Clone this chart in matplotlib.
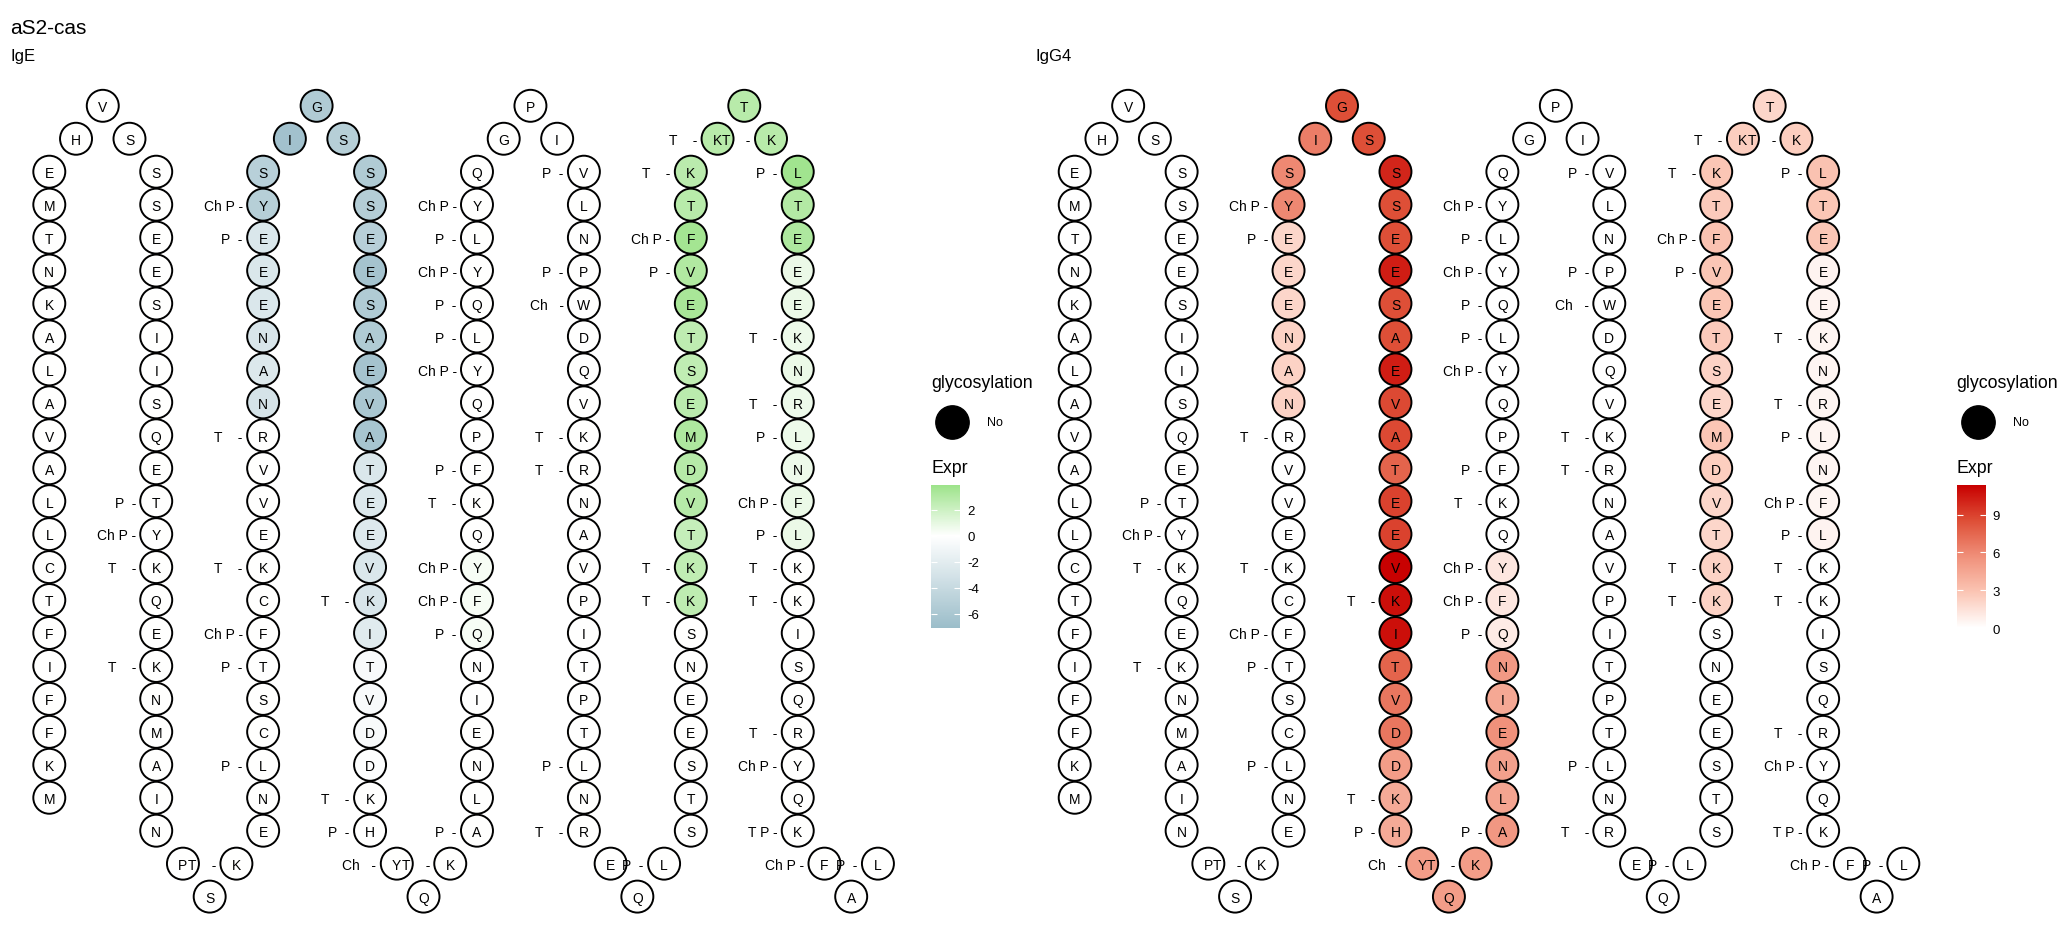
import matplotlib.pyplot as plt
from matplotlib.colors import LinearSegmentedColormap, Normalize
from matplotlib.cm import ScalarMappable
from matplotlib.lines import Line2D

plt.rcParams['font.family'] = ['Liberation Sans', 'DejaVu Sans']
plt.rcParams['axes.unicode_minus'] = False

# aS2-casein, the residues drawn in the snake plot (N-terminal 191 aa)
sequence = ("MKFFIFTCLLAVALAKNTMEHVSSSEESIISQETYKQEKNMAINPSKENLCSTFCKEVVRNANEEEYS"
            "IGSSSEESAEVATEEVKITVDDKHYQKALNEINQFYQKFPQYLQYLYQGPIVLNPWDQVKRNAVPIT"
            "PTLNREQLSTSEENSKKTVDMESTEVFTKKTKLTEEEKNRLNFLKKISQRYQKFAL")
column_lengths = [20, 21, 21, 21, 21, 21, 21, 21]

# modifications (1-based residue number -> label)
mod_pos = [34, 35, 36, 39, 47, 67, 66, 60, 56, 54, 53, 50, 85, 91, 92, 93, 95,
           115, 114, 113, 112, 111, 110, 107, 106, 104, 103, 102, 96,
           120, 123, 124, 128, 129, 138, 140, 143,
           164, 162, 161, 152, 151, 165, 167,
           168, 173, 175, 176, 178, 179, 180, 181, 185, 186, 188, 189, 191]
mod_type = ["P", "Ch P", "T", "T", "T", "Ch P", "P", "T", "T", "Ch P", "P", "P", "T", "T", "P", "Ch", "T",
            "Ch P", "P", "Ch P", "P", "P", "Ch P", "P", "T", "Ch P", "Ch P", "P", "P",
            "P", "P", "Ch", "T", "T", "P", "T", "P",
            "T", "Ch P", "P", "T", "T", "T", "T",
            "P", "T", "T", "P", "Ch P", "P", "T", "T", "T", "Ch P", "T P", "Ch P", "P"]
mod_text = {"P": "P  -", "Ch P": "Ch P -", "T": "T    -", "Ch": "Ch   -", "T P": "T P -"}

# IgE expression (residues not listed are 0)
ige_pos = [61, 62, 63, 64, 65, 66, 67, 68, 69, 70, 71,
           72, 73, 74, 75, 76, 77, 78, 79, 80, 81, 82, 83, 84, 85, 86, 87, 88, 89, 90,
           102, 103, 104,
           151, 152, 153, 154, 155, 156, 157, 158, 159, 160, 161, 162, 163, 164, 165, 166, 167,
           168, 169, 170, 171, 172, 173, 174, 175, 176, 177, 178, 179]
ige_val = [-3.0, -2.5, -2.8, -2.6, -2.6, -2.6, -5.2, -5.0, -6.6, -5.6, -5.2,
           -5.6, -5.3, -5.1, -6.4, -5.6, -5.6, -6.4, -6.0, -6.2, -2.6, -2.5, -2.4, -2.6, -2.8, -2.2,
           -0.5, -0.5, -0.5, -0.1,
           0.3, 0.3, 0.3,
           2.6, 2.5, 2.3, 2.9, 2.9, 3.2, 2.7, 2.5, 2.6, 3.4, 3.1, 3.6, 2.8, 2.7, 2.8, 2.8, 2.8,
           3.7, 3.0, 3.2, 0.8, 0.8, 0.7, 0.8, 0.7, 0.7, 0.7, 0.8, 0.8]

# IgG4 expression (residues not listed are 0)
igg4_pos = [61, 62, 63, 64, 65, 66, 67, 68, 69, 70, 71,
            72, 73, 74, 75, 76, 77, 78, 79, 80, 81, 82, 83, 84, 85, 86, 87, 88, 89, 90, 91, 92,
            93, 94, 95, 96, 97, 98, 99, 100, 101, 102, 103, 104,
            151, 152, 153, 154, 155, 156, 157, 158, 159, 160, 161, 162, 163, 164, 165, 166, 167,
            168, 169, 170, 171, 172, 173, 174, 175, 176, 177, 178, 179]
igg4_val = [2.2, 2.2, 2.2, 2.0, 2.0, 2.0, 6.0, 6.0, 6.5, 8.5, 8.5,
            10.0, 8.5, 8.5, 10.3, 8.5, 8.5, 10.3, 8.7, 8.7, 7.6, 9.0, 9.0, 11.3, 10.8, 10.8,
            7.6, 6.8, 6.8, 5.0, 4.3, 4.3,
            5.0, 5.0, 5.0, 5.3, 4.6, 4.8, 5.6, 4.4, 5.2, 1.0, 1.2, 1.2,
            2.2, 2.2, 2.0, 2.0, 2.4, 2.8, 2.0, 2.2, 2.6, 2.8, 2.8, 3.0, 2.6, 2.8, 2.4, 2.0, 2.4,
            3.0, 2.8, 2.8, 0.6, 0.6, 0.5, 0.5, 0.5, 0.5, 0.5, 0.5, 0.6]

W, H = 2068, 945
DX, DY = 26.73, 32.95
ROW0 = 172.7


def snake_layout(lengths):
    xs, ys = [], []
    x = 0
    for k, n in enumerate(lengths):
        rows = range(n - 1, -1, -1) if k % 2 == 0 else range(n)
        for r in rows:
            xs.append(x)
            ys.append(r)
        if k % 2 == 0:
            loop = [-1, -2, -1]
        else:
            loop = [n, n + 1, n]
        for i, r in enumerate(loop):
            xs.append(x + i + 1)
            ys.append(r)
        x += 4
    return xs, ys


xs, ys = snake_layout(column_lengths)

fig = plt.figure(figsize=(W / 100, H / 100), dpi=100)

ige_cmap = LinearSegmentedColormap.from_list(
    "ige", [(0, "#9bbdc9"), (7.1 / 11.0, "#ffffff"), (1, "#9de38a")])
ige_norm = Normalize(-7.1, 3.9)
igg4_cmap = LinearSegmentedColormap.from_list(
    "igg4", [(0, "#ffffff"), (0.25, "#fbc5b4"), (0.5, "#f0907a"), (0.75, "#de4f37"), (1, "#c80000")])
igg4_norm = Normalize(0, 11.35)


def draw_panel(x0, name, pos, val, cmap, norm, ticks):
    xl = (-1.8, 32.6)
    yl = (23.2, -3.2)
    left = x0 + xl[0] * DX
    right = x0 + xl[1] * DX
    top = ROW0 + yl[1] * DY
    bottom = ROW0 + yl[0] * DY
    ax = fig.add_axes([left / W, 1 - bottom / H, (right - left) / W, (bottom - top) / H])
    ax.set_xlim(xl)
    ax.set_ylim(yl)
    ax.set_axis_off()

    expr = [0.0] * len(sequence)
    for p, v in zip(pos, val):
        expr[p - 1] = v
    ax.scatter(xs, ys, s=530, c=expr, cmap=cmap, norm=norm,
               edgecolors="black", linewidths=1.4, zorder=2)
    for x, y, aa in zip(xs, ys, sequence):
        ax.text(x, y + 0.04, aa, ha="center", va="center", fontsize=10, zorder=3)
    for p, t in zip(mod_pos, mod_type):
        ax.text(xs[p - 1] - 0.76, ys[p - 1] + 0.04, mod_text[t], ha="right", va="center",
                fontsize=10, zorder=4)

    fig.text((x0 - 39) / W, 1 - 56.7 / H, name, ha="left", va="center", fontsize=12)

    # legend
    lx = x0 + 882
    fig.text(lx / W, 1 - 384 / H, "glycosylation", ha="left", va="center", fontsize=12.8)
    fig.add_artist(Line2D([(lx + 21) / W], [1 - 423 / H], marker="o", markersize=24,
                          color="black", transform=fig.transFigure))
    fig.text((lx + 56) / W, 1 - 423 / H, "No", ha="left", va="center", fontsize=9)
    fig.text(lx / W, 1 - 469 / H, "Expr", ha="left", va="center", fontsize=12.8)
    cax = fig.add_axes([lx / W, 1 - 629 / H, 29 / W, 143 / H])
    cb = fig.colorbar(ScalarMappable(norm=norm, cmap=cmap), cax=cax, ticks=ticks)
    cb.outline.set_visible(False)
    cax.tick_params(direction="in", length=4.2, width=0.8, color="white",
                    left=True, right=True, labelsize=9.5, pad=5)


draw_panel(49.3, "IgE", ige_pos, ige_val, ige_cmap, ige_norm, [-6, -4, -2, 0, 2])
draw_panel(1074.7, "IgG4", igg4_pos, igg4_val, igg4_cmap, igg4_norm, [0, 3, 6, 9])

fig.text(10 / W, 1 - 28.5 / H, "aS2-cas", ha="left", va="center", fontsize=15)

fig.savefig("out.png", dpi=100, facecolor="white")
